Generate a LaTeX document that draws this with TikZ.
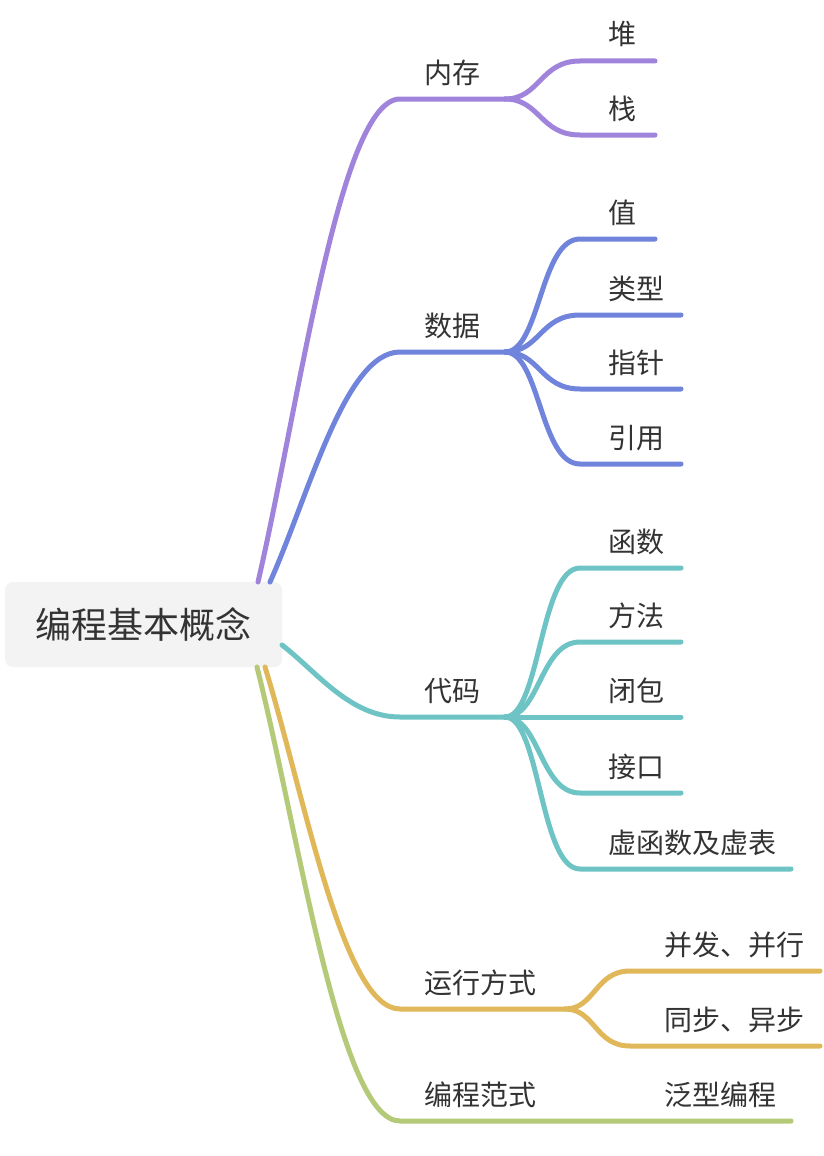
\documentclass[tikz,border=0pt]{standalone}
\usepackage{fontspec}
\setmainfont{Noto Sans CJK SC}
\definecolor{cpurple}{RGB}{160,132,220}
\definecolor{cblue}{RGB}{112,132,220}
\definecolor{cteal}{RGB}{110,196,196}
\definecolor{cgold}{RGB}{224,184,90}
\definecolor{cgreen}{RGB}{180,202,120}
\definecolor{ctext}{RGB}{51,51,51}
\definecolor{cbox}{RGB}{243,243,243}
\begin{document}
\begin{tikzpicture}[x=1pt,y=-1pt,
  br/.style={line width=5pt,line cap=round,line join=round},
  lbl/.style={anchor=base west,inner sep=0pt,text=ctext,font=\fontsize{28pt}{30pt}\selectfont},
  rootbox/.style={fill=cbox,rounded corners=8pt,minimum width=277pt,minimum height=85pt,inner sep=0pt,text=ctext,font=\fontsize{36pt}{40pt}\selectfont}]
\useasboundingbox[fill=white] (0,0) rectangle (824,1156);

\node[rootbox] (root) at (143.5,624.5) {编程基本概念};

% coordinates
\coordinate (s1) at (258,582); \coordinate (e1) at (400,99);  \coordinate (f1) at (505,99);
\coordinate (s2) at (270,582); \coordinate (e2) at (400,352); \coordinate (f2) at (505,352);
\coordinate (s3) at (282,645); \coordinate (e3) at (400,717); \coordinate (f3) at (505,717);
\coordinate (s4) at (265,667); \coordinate (e4) at (400,1009); \coordinate (f4) at (565,1009);
\coordinate (s5) at (257,667); \coordinate (e5) at (400,1121); \coordinate (t5) at (791,1121);

\coordinate (h11) at (580,61);  \coordinate (t11) at (655,61);
\coordinate (h12) at (580,135); \coordinate (t12) at (655,135);
\coordinate (h21) at (580,239); \coordinate (t21) at (655,239);
\coordinate (h22) at (580,315); \coordinate (t22) at (681,315);
\coordinate (h23) at (580,389); \coordinate (t23) at (681,389);
\coordinate (h24) at (580,464); \coordinate (t24) at (681,464);
\coordinate (h31) at (580,568); \coordinate (t31) at (681,568);
\coordinate (h32) at (580,642); \coordinate (t32) at (681,642);
\coordinate (t33) at (681,717);
\coordinate (h34) at (580,793); \coordinate (t34) at (681,793);
\coordinate (h35) at (580,869); \coordinate (t35) at (791,869);
\coordinate (h41) at (630,971);  \coordinate (t41) at (820,971);
\coordinate (h42) at (630,1046); \coordinate (t42) at (820,1046);

% main branches
\draw[br,cpurple] (s1) .. controls +(42,-182) and +(-60,0) .. (e1) -- (f1);
\draw[br,cblue]   (s2) .. controls +(39,-87) and +(-55,0) .. (e2) -- (f2);
\draw[br,cteal]   (s3) .. controls +(35,27) and +(-50,0) .. (e3) -- (f3);
\draw[br,cgold]   (s4) .. controls +(40,130) and +(-57,0) .. (e4) -- (f4);
\draw[br,cgreen]  (s5) .. controls +(43,172) and +(-60,0) .. (e5) -- (t5);

% children
\foreach \h/\t in {h11/t11,h12/t12}
  \draw[br,cpurple] (f1) .. controls +(35,0) and +(-40,0) .. (\h) -- (\t);
\foreach \h/\t in {h21/t21,h22/t22,h23/t23,h24/t24}
  \draw[br,cblue] (f2) .. controls +(35,0) and +(-40,0) .. (\h) -- (\t);
\foreach \h/\t in {h31/t31,h32/t32,h34/t34,h35/t35}
  \draw[br,cteal] (f3) .. controls +(35,0) and +(-40,0) .. (\h) -- (\t);
\draw[br,cteal] (f3) -- (t33);
\foreach \h/\t in {h41/t41,h42/t42}
  \draw[br,cgold] (f4) .. controls +(30,0) and +(-35,0) .. (\h) -- (\t);

% labels
\node[lbl] (l1) at (424,83) {内存};
\node[lbl] (l2) at (424,336) {数据};
\node[lbl] (l3) at (424,701) {代码};
\node[lbl] (l4) at (424,993) {运行方式};
\node[lbl] (l5) at (424,1105) {编程范式};

\node[lbl] (l11) at (608,45) {堆};
\node[lbl] (l12) at (608,119) {栈};
\node[lbl] (l21) at (608,223) {值};
\node[lbl] (l22) at (608,299) {类型};
\node[lbl] (l23) at (608,373) {指针};
\node[lbl] (l24) at (608,448) {引用};
\node[lbl] (l31) at (608,552) {函数};
\node[lbl] (l32) at (608,626) {方法};
\node[lbl] (l33) at (608,701) {闭包};
\node[lbl] (l34) at (608,777) {接口};
\node[lbl] (l35) at (608,853) {虚函数及虚表};
\node[lbl] (l41) at (664,955) {并发、并行};
\node[lbl] (l42) at (664,1030) {同步、异步};
\node[lbl] (l51) at (664,1105) {泛型编程};
\end{tikzpicture}
\end{document}
